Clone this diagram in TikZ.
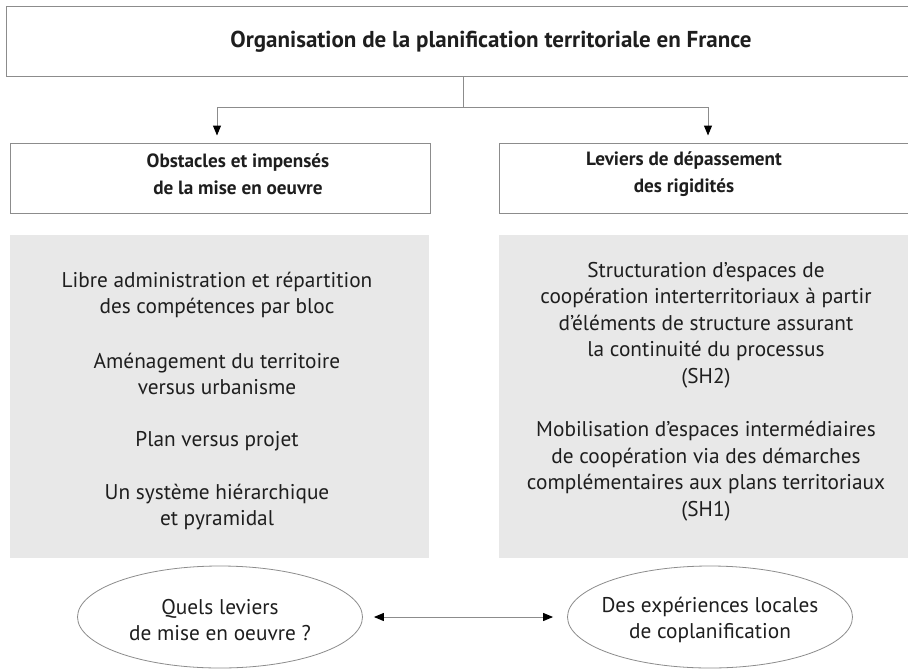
\documentclass[tikz,border=0pt]{standalone}
\usepackage{fontspec}
\setmainfont{PT Sans}
\usetikzlibrary{shapes.geometric,arrows.meta}
\definecolor{boxline}{HTML}{8C8C8C}
\definecolor{panel}{HTML}{E8E8E8}
\definecolor{ink}{HTML}{1E1E1E}
\begin{document}
\begin{tikzpicture}[x=1pt,y=-1pt,
  frame/.style={draw=boxline, line width=1pt, fill=white, inner sep=0pt},
  panelbox/.style={fill=panel, inner sep=0pt},
  titletext/.style={font=\fontsize{23}{28}\selectfont\bfseries, text=ink, align=center, inner sep=0pt},
  hdrtext/.style={font=\fontsize{19.2}{27}\selectfont\bfseries, text=ink, align=center, inner sep=0pt},
  bodytext/.style={font=\fontsize{21.3}{26.5}\selectfont, text=ink, align=center, inner sep=0pt},
  oval/.style={ellipse, draw=boxline, line width=0.8pt, inner sep=0pt, minimum width=285pt, minimum height=102pt},
  conn/.style={draw=boxline, line width=1pt},
  tip/.style={-{Triangle[length=10pt,width=8pt,color=black]}},
  tips/.style={{Triangle[length=10pt,width=8pt,color=black]}-{Triangle[length=10pt,width=8pt,color=black]}}
]
\useasboundingbox (0,0) rectangle (908,670);
\clip (0,0) rectangle (908,670);
\fill[white] (0,0) rectangle (908,670);

% top box
\node[frame, minimum width=970pt, minimum height=70pt] (top) at (491,41) {};
\node[titletext] (toptxt) at (491,42) {Organisation de la planification territoriale en France};

% header boxes
\node[frame, minimum width=420pt, minimum height=70pt] (obs) at (220,178) {};
\node[hdrtext] (obstxt) at (238,174) {Obstacles et impensés\\de la mise en oeuvre};
\node[frame, minimum width=420pt, minimum height=70pt] (lev) at (709,178) {};
\node[hdrtext] (levtxt) at (684,174) {Leviers de dépassement\\des rigidités};

% connectors from top
\coordinate (split) at (463,107);
\coordinate (ltop) at (217,107);
\coordinate (rtop) at (708,107);
\draw[conn] (top.south -| split) -- (split);
\draw[conn] (ltop) -- (rtop);
\draw[conn, tip, shorten >=7pt] (ltop) -- (ltop |- obs.north);
\draw[conn, tip, shorten >=7pt] (rtop) -- (rtop |- lev.north);

% grey panels
\node[panelbox, minimum width=419pt, minimum height=323pt] (lp) at (219.5,396.5) {};
\node[panelbox, minimum width=420pt, minimum height=323pt] (rp) at (709,396.5) {};

\node[bodytext] (l1) at (217,295) {Libre administration et répartition\\des compétences par bloc};
\node[bodytext] (l2) at (217,374) {Aménagement du territoire\\versus urbanisme};
\node[bodytext] (l3) at (217,441) {Plan versus projet};
\node[bodytext] (l4) at (217,507) {Un système hiérarchique\\et pyramidal};

\node[bodytext] (r1) at (706,325) {Structuration d’espaces de\\coopération interterritoriaux à partir\\d’éléments de structure assurant\\la continuité du processus\\(SH2)};
\node[bodytext] (r2) at (706,471) {Mobilisation d’espaces intermédiaires\\de coopération via des démarches\\complémentaires aux plans territoriaux\\(SH1)};

% ellipses
\node[oval] (q) at (220,617) {};
\node[bodytext] (qtxt) at (220,620) {Quels leviers\\de mise en oeuvre ?};
\node[oval] (e) at (710,617) {};
\node[bodytext] (etxt) at (710,620) {Des expériences locales\\de coplanification};

\draw[conn, tips, shorten <=11pt, shorten >=14pt] (q.east) -- (e.west);
\end{tikzpicture}
\end{document}
